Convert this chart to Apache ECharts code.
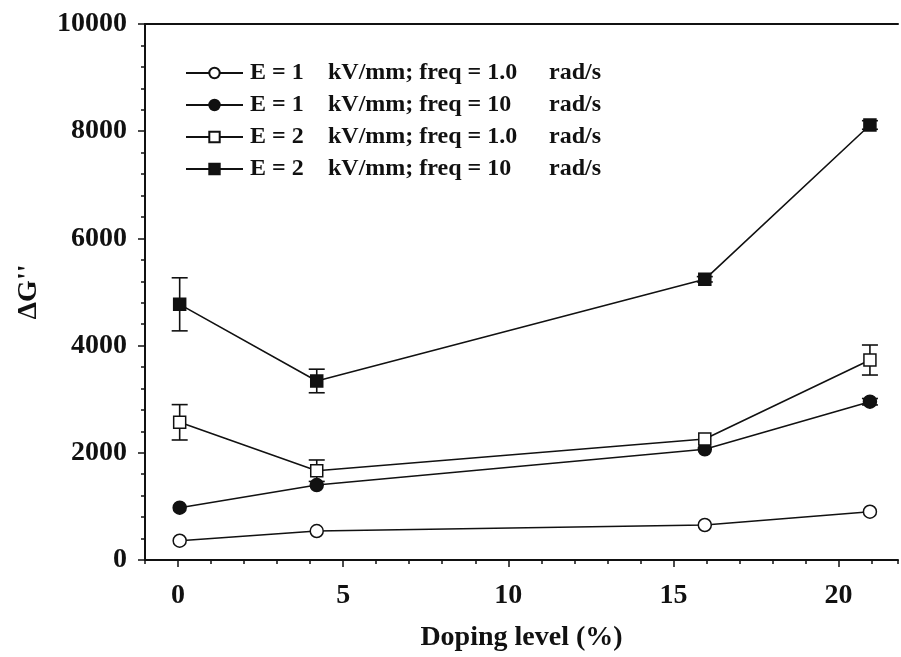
<!DOCTYPE html>
<html>
<head>
<meta charset="utf-8">
<script src="https://cdn.jsdelivr.net/npm/echarts@6/dist/echarts.min.js"></script>
<style>
  html, body { margin: 0; padding: 0; background: #fff; }
  #chart { width: 901px; height: 657px; }
</style>
</head>
<body>
<div id="chart"></div>
<script>
// doping level (%) of the four samples
const doping = [0.05, 4.2, 15.95, 20.95]
// ΔG'' values
const e1f1 = [360, 541, 653, 901]
const e1f10 = [976, 1399, 2065, 2953]
const e2f1 = [2569, 1666, 2257, 3731]
const e2f10 = [4770, 3340, 5237, 8116]
// half error bars
const e1f1Err = [0, 0, 0, 0]
const e1f10Err = [0, 0, 0, 60]
const e2f1Err = [330, 200, 0, 280]
const e2f10Err = [495, 220, 50, 80]
// legend parts
const fieldText = ['E = 1', 'E = 1', 'E = 2', 'E = 2']
const freqText = ['kV/mm; freq = 1.0', 'kV/mm; freq = 10', 'kV/mm; freq = 1.0', 'kV/mm; freq = 10']
const unitText = 'rad/s'
const yTicks = [0, 2000, 4000, 6000, 8000, 10000]
const xTicks = [0, 5, 10, 15, 20]

const names = fieldText.map((f, i) => f + ' ' + freqText[i] + ' ' + unitText)
const font = 'Liberation Serif'

const myChart = echarts.init(document.getElementById('chart'))

// 线 + 标记
function lineSeries (i, vals, symbol, filled) {
  return {
    name: names[i],
    type: 'line',
    data: vals.map((v, k) => [doping[k], v]),
    symbol: symbol,
    symbolSize: symbol === 'rect' ? 12 : 13,
    showSymbol: true,
    z: 5,
    lineStyle: { color: '#111', width: 1.6 },
    itemStyle: { color: filled ? '#111' : '#fff', borderColor: '#111', borderWidth: 1.5 }
  }
}

// 误差棒
function errSeries (vals, errs) {
  return {
    type: 'custom',
    z: 3,
    silent: true,
    data: vals.map((v, k) => [doping[k], v - errs[k], v + errs[k]]).filter((d, k) => errs[k] > 0),
    renderItem: function (params, api) {
      const lo = api.coord([api.value(0), api.value(1)])
      const hi = api.coord([api.value(0), api.value(2)])
      const w = 8
      const st = { stroke: '#111', lineWidth: 1.6 }
      return {
        type: 'group',
        children: [
          { type: 'line', shape: { x1: lo[0], y1: lo[1], x2: hi[0], y2: hi[1] }, style: st },
          { type: 'line', shape: { x1: lo[0] - w, y1: lo[1], x2: lo[0] + w, y2: lo[1] }, style: st },
          { type: 'line', shape: { x1: hi[0] - w, y1: hi[1], x2: hi[0] + w, y2: hi[1] }, style: st }
        ]
      }
    }
  }
}

const richBase = { fontFamily: font, fontWeight: 'bold', fontSize: 24, lineHeight: 26, color: '#111' }

const option = {
  backgroundColor: '#fff',
  animation: false,
  grid: { left: 145, right: 0, top: 24, bottom: 97 },
  legend: {
    orient: 'vertical',
    left: 180, top: 56,
    itemWidth: 57, itemHeight: 13, itemGap: 8,
    data: names,
    formatter: function (name) {
      const i = names.indexOf(name)
      return '{a|' + fieldText[i] + '}{b|' + freqText[i] + '}{c|' + unitText + '}'
    },
    textStyle: {
      rich: {
        a: Object.assign({ width: 78, padding: [0, 0, 0, 2] }, richBase),
        b: Object.assign({ width: 221 }, richBase),
        c: richBase
      }
    }
  },
  xAxis: [{
    type: 'value',
    min: -1, max: 21.8, interval: 1,
    name: 'Doping level (%)',
    nameLocation: 'middle', nameGap: 64,
    nameTextStyle: { fontFamily: font, fontWeight: 'bold', fontSize: 28, color: '#111' },
    splitLine: { show: false },
    axisLine: { onZero: false, lineStyle: { color: '#111', width: 2 } },
    axisTick: { length: 4, lineStyle: { color: '#111', width: 1.5 } },
    axisLabel: {
      margin: 22,
      fontFamily: font, fontWeight: 'bold', fontSize: 28, color: '#111',
      formatter: v => xTicks.indexOf(v) >= 0 ? String(v) : ''
    }
  }, {
    type: 'value',
    position: 'bottom',
    min: -1, max: 21.8,
    splitLine: { show: false },
    axisLine: { show: false },
    axisLabel: { show: false },
    axisTick: { length: 7, customValues: xTicks, lineStyle: { color: '#111', width: 1.5 } }
  }, {
    // 上边框
    type: 'value',
    position: 'top',
    min: -1, max: 21.8,
    splitLine: { show: false },
    axisLine: { onZero: false, lineStyle: { color: '#111', width: 2 } },
    axisLabel: { show: false },
    axisTick: { show: false }
  }],
  yAxis: {
    type: 'value',
    min: 0, max: 10000, interval: 2000,
    name: 'ΔG\'\'',
    nameLocation: 'middle', nameGap: 102,
    nameTextStyle: { fontFamily: font, fontWeight: 'bold', fontSize: 28, color: '#111' },
    splitLine: { show: false },
    axisLine: { onZero: false, lineStyle: { color: '#111', width: 2 } },
    axisTick: { length: 7, lineStyle: { color: '#111', width: 1.5 } },
    minorTick: { show: true, splitNumber: 5, length: 4, lineStyle: { color: '#111', width: 1.5 } },
    axisLabel: {
      margin: 18,
      fontFamily: font, fontWeight: 'bold', fontSize: 28, color: '#111',
      formatter: v => yTicks.indexOf(v) >= 0 ? String(v) : ''
    }
  },
  series: [
    errSeries(e1f1, e1f1Err),
    errSeries(e1f10, e1f10Err),
    errSeries(e2f1, e2f1Err),
    errSeries(e2f10, e2f10Err),
    lineSeries(0, e1f1, 'circle', false),
    lineSeries(1, e1f10, 'circle', true),
    lineSeries(2, e2f1, 'rect', false),
    lineSeries(3, e2f10, 'rect', true)
  ]
}

myChart.setOption(option)
window.onresize = function () {
  myChart.resize()
}
</script>
</body>
</html>
